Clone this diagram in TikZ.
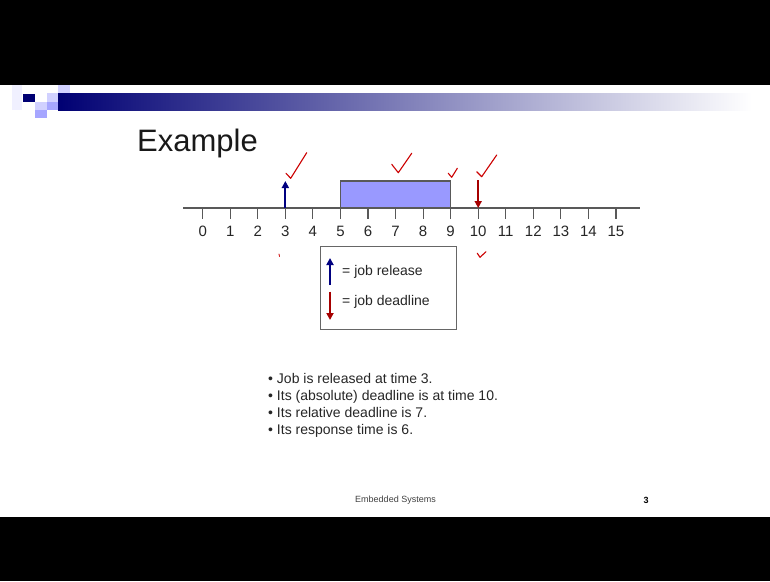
\documentclass[tikz,border=0pt]{standalone}
\usepackage{fontspec}
\setmainfont{Liberation Sans}
\usetikzlibrary{arrows.meta,positioning}

\begin{document}
\begin{tikzpicture}[x=1pt,y=-1pt]
  \colorlet{barcol}{blue!45!black}
  \colorlet{sqlight}{blue!18!white}
  \colorlet{sqmid}{blue!35!white}
  \colorlet{axiscol}{black!65}
  \colorlet{relcol}{blue!50!black}
  \colorlet{deadcol}{red!65!black}
  \colorlet{checkcol}{red!80!black}
  \colorlet{boxcol}{blue!40!white}
  \tikzstyle{tick}=[draw=axiscol,line width=1.1pt]
  \tikzstyle{numlab}=[font=\fontsize{15}{18}\selectfont,text=black!85,inner sep=0pt]
  \tikzstyle{legtext}=[font=\fontsize{14}{17}\selectfont,text=black!85,inner sep=0pt,anchor=base west]
  \tikzstyle{release}=[draw=relcol,line width=2.2pt,-{Triangle[length=7pt,width=7pt]}]
  \tikzstyle{deadline}=[draw=deadcol,line width=2.2pt,-{Triangle[length=7pt,width=7pt]}]
  \tikzstyle{check}=[draw=checkcol,line width=1.1pt,line cap=round,line join=round]

  \def\u{27.55}
  \def\xo{202.7}
  \def\ya{208}

  \useasboundingbox (0,0) rectangle (770,581);

  % SLIDE
  \fill[black] (0,0) rectangle (770,581);
  \fill[white] (0,85) rectangle (770,517);

  % HEADER
  \fill[blue!6!white] (12,85) rectangle (22,110);
  \shade[left color=barcol,right color=white] (58,93) rectangle (752,110);
  \fill[barcol] (23,94) rectangle (35,102);
  \fill[sqlight] (58,85) rectangle (70,93);
  \fill[sqlight] (47,93) rectangle (58,102);
  \fill[sqlight] (35,102) rectangle (47,110);
  \fill[sqmid] (47,102) rectangle (58,110);
  \fill[sqmid] (35,110) rectangle (47,118);

  \node[font=\fontsize{31}{37}\selectfont,text=black!90,inner sep=0pt,anchor=base west]
  (title) at (137,151.7) {Example};

  % TIMELINE
  \coordinate (ax0) at (183,\ya);
  \coordinate (ax1) at (640,\ya);
  \foreach \i in {0,...,15}{
      \coordinate (t\i) at (\xo+\i*\u,\ya);
    }
  \draw[draw=axiscol,line width=1.2pt,fill=boxcol] (t5) rectangle ++(4*\u,-27);
  \draw[axiscol,line width=1.3pt] (ax0) -- (ax1);
  \foreach \i in {0,...,15}{
      \draw[tick] (t\i) -- ++(0,11);
      \node[numlab] (n\i) at (\xo+\i*\u,231.7) {\i};
    }
  \coordinate (rel) at (\xo+3*\u,181);
  \coordinate (dl) at (\xo+10*\u,180);
  \draw[release] (t3) -- (rel);
  \draw[deadline] (dl) -- (t10);

  % CHECKS
  \draw[check] (286,173.3) -- (290.7,178.3) -- (306.7,152.7);
  \draw[check] (391.7,164.3) -- (398.3,172.7) -- (411.7,153.3);
  \draw[check] (448.3,173.3) -- (451.7,177.3) -- (457.3,168.3);
  \draw[check] (476.7,171.7) -- (481.7,176.7) -- (496.7,155);
  \draw[check] (477.3,253.3) -- (480,257.3) -- (486,251.7);
  \draw[check,line width=0.8pt] (279,254) -- (279.5,256.5);

  % LEGEND
  \node[draw=black!60,line width=1.1pt,minimum width=136pt,minimum height=82.6pt,inner sep=0pt]
  (leg) at (388.7,288) {};
  \coordinate (lr0) at (330,285);
  \coordinate (lr1) at (330,258);
  \coordinate (ld0) at (330,291.7);
  \coordinate (ld1) at (330,320);
  \draw[release] (lr0) -- (lr1);
  \draw[deadline] (ld0) -- (ld1);
  \node[legtext] (lrel) at (342,275.7) {= job release};
  \node[legtext] (ldead) at (342,305.7) {= job deadline};

  % BULLETS
  \foreach \t [count=\k] in {Job is released at time 3.,
      Its (absolute) deadline is at time 10.,
      Its relative deadline is 7.,
      Its response time is 6.}{
      \node[legtext] (b\k) at (268,383+\k*17-17) {\textbullet\ \t};
    }

  % FOOTER
  \node[font=\fontsize{9}{11}\selectfont,text=black!75,inner sep=0pt] (foot) at (395.5,500) {Embedded Systems};
  \node[font=\fontsize{9}{11}\selectfont\bfseries,inner sep=0pt] (page) at (646,500) {3};
\end{tikzpicture}
\end{document}
